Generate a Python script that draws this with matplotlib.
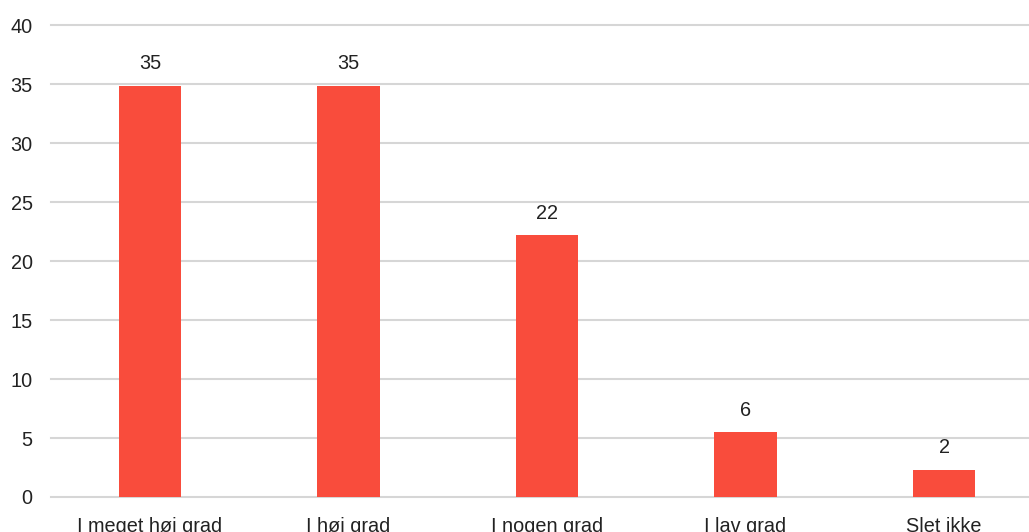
import matplotlib
matplotlib.use("Agg")
import matplotlib.pyplot as plt

categories = ["I meget høj grad", "I høj grad", "I nogen grad", "I lav grad", "Slet ikke"]
values = [34.9, 34.9, 22.2, 5.5, 2.3]
value_labels = ["35", "35", "22", "6", "2"]
yticks = [0, 5, 10, 15, 20, 25, 30, 35, 40]

plt.rcParams['font.family'] = ['Liberation Sans', 'DejaVu Sans']

W, H = 1029, 532
fig = plt.figure(figsize=(W / 100, H / 100), dpi=100)
left = 50.75 / W
width = 992.5 / W
bottom = (H - 497.0) / H
top = (H - 25.5) / H
ax = fig.add_axes([left, bottom, width, top - bottom])

FS = 14.3
x = list(range(len(categories)))
bars = ax.bar(x, values, width=0.315, color="#F94C3C", zorder=3)
for xi, v, lab in zip(x, values, value_labels):
    ax.annotate(lab, (xi, v), xytext=(0, 9), textcoords="offset points",
                ha="center", va="bottom", fontsize=FS, color="#222222")

ax.set_xlim(-0.5, len(categories) - 0.5)
ax.set_ylim(0, 40)
ax.set_yticks(yticks)
ax.set_xticks(x)
ax.set_xticklabels(categories)
ax.yaxis.grid(True, color="#d6d6d6", linewidth=1.5, zorder=0)
for gl in ax.get_ygridlines():
    gl.set_clip_on(False)
ax.set_axisbelow(True)
for s in ax.spines.values():
    s.set_visible(False)
ax.tick_params(axis="both", length=0, labelsize=FS, labelcolor="#222222")
ax.tick_params(axis="y", pad=13)
ax.tick_params(axis="x", pad=14.5)

fig.savefig("out.png", dpi=100)
